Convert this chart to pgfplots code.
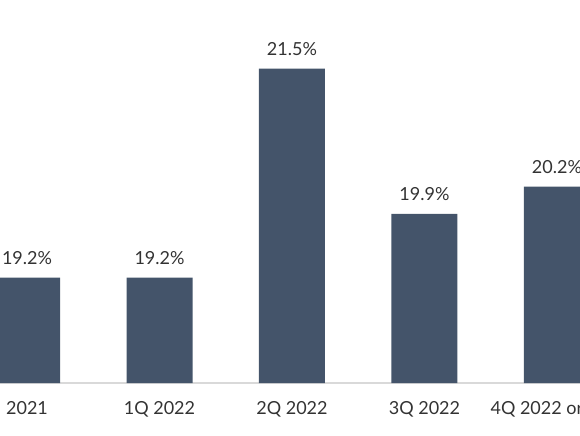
\documentclass[border=0pt]{standalone}
\usepackage{pgfplots}
\pgfplotsset{compat=1.18}
\usepackage{fontspec}
\setmainfont{Lato}
\definecolor{barblue}{HTML}{44546A}
\definecolor{txt}{HTML}{333333}
\begin{document}
\begin{tikzpicture}[x=1pt,y=1pt]
  \begin{axis}[
      scale only axis, width=435pt, height=287.25pt,
      at={(0,0)}, anchor=south west,
      xmin=-0.204, xmax=4.174, ymin=18.04, ymax=22.255,
      hide y axis, axis x line*=bottom,
      x axis line style={draw=black!15, line width=0.8pt},
      xtick={0,1,2,3,4},
      xticklabels={2021,1Q 2022,2Q 2022,3Q 2022,4Q 2022 or later},
      major tick length=0pt,
      ytick=\empty,
      ybar, bar width=49.5pt,
      /pgf/number format/assume math mode=true,
      ticklabel style={font=\fontsize{13.5}{16}\selectfont, text=txt},
      xticklabel style={yshift=-10pt},
      nodes near coords={\pgfmathprintnumber[fixed,precision=1,fixed zerofill]{\pgfplotspointmeta}\%},
      nodes near coords style={font=\fontsize{13.5}{16}\selectfont, text=txt, yshift=6.5pt},
    ]
    \addplot[fill=barblue, draw=none] coordinates {(0,19.2) (1,19.2) (2,21.5) (3,19.9) (4,20.2)};
  \end{axis}
  \pgfresetboundingbox
  \path[use as bounding box] (0,-39) rectangle (435,287.25);
\end{tikzpicture}
\end{document}
